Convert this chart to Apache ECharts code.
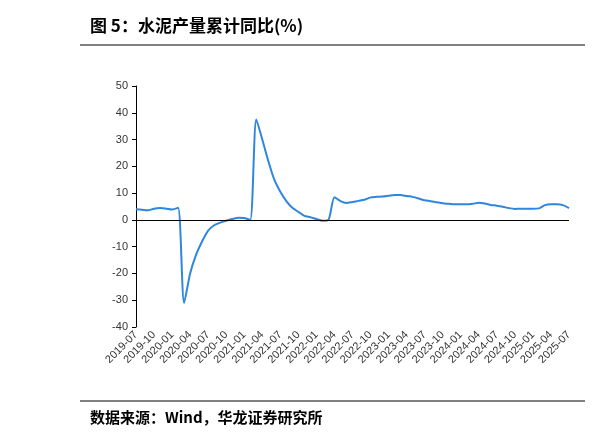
<!DOCTYPE html><html><head><meta charset="utf-8"><script src="https://cdn.jsdelivr.net/npm/echarts@6/dist/echarts.min.js"></script>
<style>body{margin:0;background:#fff}#c{width:599px;height:441px}</style></head><body><div id="c"></div><script>
var categories=[];for(var y=2019,m=7;y<2025||(y===2025&&m<=7);){categories.push(y+'-'+(m<10?'0':'')+m);m++;if(m>12){m=1;y++;}}
var values=[4.0,3.8,3.6,4.2,4.4,4.2,3.9,4.5,-31,-20,-13,-8,-4,-2,-1,-0.3,0.3,0.8,0.7,0,37.5,30,22,15,10.5,7,4.5,3,1.5,1,0.3,-0.3,0,8.5,7,6.3,6.7,7.1,7.5,8.4,8.6,8.7,9,9.3,9.3,8.9,8.6,8.0,7.3,7.0,6.6,6.2,6.0,5.8,5.8,5.8,6.0,6.4,6.1,5.6,5.3,4.9,4.4,4.1,4.2,4.2,4.2,4.3,5.5,5.8,5.8,5.5,4.4];
var yTicks={min:-40,max:50,interval:10};
var ch=echarts.init(document.getElementById('c'));
var lab={color:'#333',fontSize:11,fontFamily:'Arial, Liberation Sans'};
ch.setOption({animation:false,
title:[{text:'图 5：水泥产量累计同比(%)',left:85,top:12,textStyle:{fontSize:17,fontWeight:'bold',color:'#000',fontFamily:'Noto Sans CJK SC'}},
{text:'数据来源：Wind，华龙证券研究所',left:85,top:405,textStyle:{fontSize:15,fontWeight:'bold',color:'#000',fontFamily:'Noto Sans CJK SC'}}],
graphic:[{type:'line',shape:{x1:80,y1:45,x2:585,y2:45},style:{stroke:'#000',lineWidth:1}},{type:'line',shape:{x1:80,y1:401,x2:585,y2:401},style:{stroke:'#000',lineWidth:1}}],
grid:{left:136,right:30,top:86,bottom:114},
xAxis:[{type:'category',data:categories,boundaryGap:false,position:'bottom',axisLine:{show:false},axisTick:{show:false},axisLabel:Object.assign({rotate:45,interval:2,margin:6},lab)}],
yAxis:{type:'value',min:yTicks.min,max:yTicks.max,interval:yTicks.interval,axisLine:{show:true,lineStyle:{color:'#000'}},axisTick:{show:true,length:4,lineStyle:{color:'#000'}},splitLine:{show:false},axisLabel:lab},
series:[{type:'line',data:values,smooth:0.25,showSymbol:false,lineStyle:{color:'#2E86DE',width:2},
markLine:{silent:true,symbol:'none',label:{show:false},lineStyle:{color:'#000',type:'solid',width:1},data:[{yAxis:0}]}}]});
</script></body></html>
